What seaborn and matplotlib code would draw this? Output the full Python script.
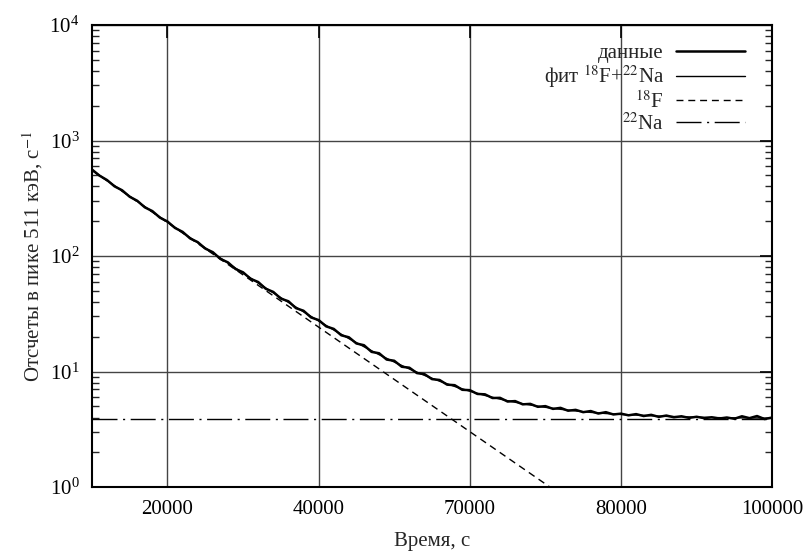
import pandas as pd
import matplotlib
matplotlib.use("Agg")
import matplotlib.pyplot as plt
import seaborn as sns
from matplotlib.ticker import LogLocator, NullFormatter

###############################################################################
# data
###############################################################################
# measured counts, 1000 s bins
data_time = list(range(10000, 100001, 1000))
data_counts = [562, 497, 455, 401, 371, 326, 301, 264, 245, 215,
               199, 175, 162, 142, 132, 116, 108, 94.5, 88.1, 77.2,
               72.3, 63.5, 59.6, 52.1, 48.9, 42.8, 40.6, 35.4, 33.6, 29.4,
               27.9, 24.6, 23.4, 20.6, 19.8, 17.5, 16.9, 14.8, 14.4, 12.7,
               12.4, 11.0, 10.8, 9.70, 9.50, 8.60, 8.45, 7.70, 7.62, 6.95,
               6.90, 6.40, 6.35, 5.90, 5.92, 5.50, 5.55, 5.20, 5.25, 4.95,
               5.02, 4.75, 4.85, 4.58, 4.66, 4.45, 4.55, 4.33, 4.45, 4.25,
               4.32, 4.18, 4.28, 4.12, 4.22, 4.05, 4.16, 4.02, 4.10, 3.97,
               4.06, 3.95, 4.02, 3.92, 4.00, 3.90, 4.10, 3.95, 4.12, 3.88,
               4.00]

# fit 18F + 22Na
fit_time = list(range(10000, 100001, 2000))
fit_counts = [555.9, 451.1, 366.2, 297.4, 241.7, 196.6, 160.0, 130.4, 106.4, 86.9,
              71.2, 58.4, 48.0, 39.7, 32.9, 27.4, 22.9, 19.3, 16.4, 14.0,
              12.09, 10.53, 9.27, 8.25, 7.43, 6.76, 6.21, 5.77, 5.42, 5.13,
              4.90, 4.71, 4.56, 4.43, 4.33, 4.25, 4.20, 4.14, 4.09, 4.06,
              4.03, 4.00, 3.98, 3.97, 3.96, 3.94]

# components
f18_time = [10000, 70600]
f18_counts = [552, 1.0]
na22_time = [10000, 100000]
na22_counts = [3.9, 3.9]

xtick_pos = [20000, 40000, 60000, 80000, 100000]
xtick_labels = ["20000", "40000", "70000", "80000", "100000"]

###############################################################################
# style
###############################################################################
sns.set_theme(style="white")
plt.rcParams['font.family'] = ['Liberation Serif', 'DejaVu Serif']
plt.rcParams['mathtext.fontset'] = 'stix'

fig = plt.figure(figsize=(8.06, 5.56), dpi=100)
ax = fig.add_axes([0.114, 0.124, 0.844, 0.831])

df_data = pd.DataFrame({'t': data_time, 'n': data_counts})
df_fit = pd.DataFrame({'t': fit_time, 'n': fit_counts})
df_f = pd.DataFrame({'t': f18_time, 'n': f18_counts})
df_na = pd.DataFrame({'t': na22_time, 'n': na22_counts})

sns.lineplot(data=df_data, x='t', y='n', ax=ax, color='black', lw=1.8,
             label='данные', zorder=4)
sns.lineplot(data=df_fit, x='t', y='n', ax=ax, color='black', lw=1.0,
             label=r'фит $^{18}$F+$^{22}$Na', zorder=5)
sns.lineplot(data=df_f, x='t', y='n', ax=ax, color='black', lw=1.0,
             label=r'$^{18}$F', zorder=3)
sns.lineplot(data=df_na, x='t', y='n', ax=ax, color='black', lw=1.0,
             label=r'$^{22}$Na', zorder=3)
lines = ax.get_lines()
lines[2].set_dashes((5, 3.5))
lines[3].set_dashes((18, 4, 1.5, 4))

ax.set_yscale('log')
ax.set_xlim(10000, 100000)
ax.set_ylim(1, 1e4)
ax.set_xticks(xtick_pos)
ax.set_xticklabels(xtick_labels)
ax.yaxis.set_major_locator(LogLocator(base=10, numticks=10))
ax.yaxis.set_minor_locator(LogLocator(base=10, subs=range(2, 10), numticks=20))
ax.yaxis.set_minor_formatter(NullFormatter())

ax.grid(True, which='major', color='#444444', lw=1.0)
ax.tick_params(axis='both', which='major', direction='in', length=9, width=1.2,
               top=True, right=True, labelsize=15, pad=9, colors='black')
ax.tick_params(axis='y', which='minor', direction='in', length=5, width=1.0,
               left=True, right=True)
ax.tick_params(axis='x', which='minor', bottom=False, top=False)
for s in ax.spines.values():
    s.set_color('black')
    s.set_linewidth(1.5)

ax.set_xlabel('Время, с', fontsize=15, labelpad=10)
ax.set_ylabel(r'Отсчеты в пике 511 кэВ, с$^{-1}$', fontsize=15, labelpad=3)

leg = ax.legend(loc='upper right', bbox_to_anchor=(0.988, 1.0), frameon=False,
                markerfirst=False, fontsize=15, handlelength=3.3,
                labelspacing=0.02, borderaxespad=0.5, handletextpad=0.6)

fig.savefig('out.png', dpi=100)
